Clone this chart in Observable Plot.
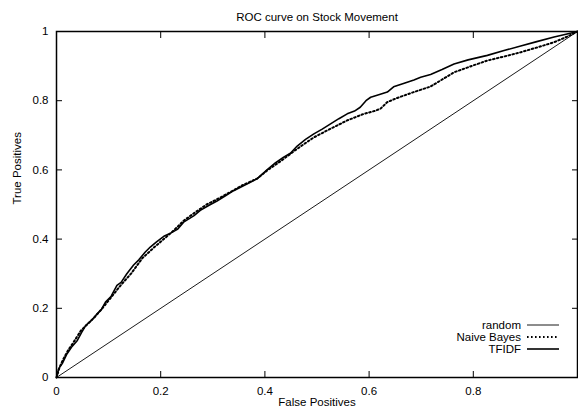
<!DOCTYPE html>
<html><head><meta charset="utf-8">
<script src="https://cdn.jsdelivr.net/npm/d3@7"></script>
<script src="https://cdn.jsdelivr.net/npm/@observablehq/plot@0.6"></script>
<style>body{margin:0;background:#fff}</style>
</head><body><div id="chart"></div>
<script>
const title = "ROC curve on Stock Movement";
const xLabel = "False Positives";
const yLabel = "True Positives";
const xTicks = [0, 0.2, 0.4, 0.6, 0.8, 1];
const xTickLabels = ["0", "0.2", "0.4", "0.6", "0.8", ""];
const yTicks = [0, 0.2, 0.4, 0.6, 0.8, 1];
const yTickLabels = ["0", "0.2", "0.4", "0.6", "0.8", "1"];
const seriesNames = ["random", "Naive Bayes", "TFIDF"];

const randomFP = [0, 1];
const randomTP = [0, 1];

const nbFP = [0,0.006,0.012,0.022,0.034,0.047,0.060,0.073,0.088,0.105,0.124,0.143,0.165,0.188,0.206,0.225,0.244,0.264,0.288,0.308,0.330,0.356,0.385,0.404,0.430,0.462,0.494,0.526,0.558,0.590,0.610,0.622,0.635,0.654,0.686,0.718,0.763,0.800,0.827,0.860,0.891,0.925,0.955,0.980,1];
const nbTP = [0,0.030,0.050,0.078,0.105,0.136,0.155,0.174,0.200,0.232,0.268,0.300,0.345,0.377,0.400,0.425,0.453,0.475,0.500,0.515,0.533,0.555,0.575,0.598,0.625,0.661,0.694,0.719,0.743,0.762,0.770,0.777,0.796,0.808,0.825,0.841,0.882,0.902,0.916,0.928,0.940,0.955,0.969,0.985,1];

const tfFP = [0,0.004,0.011,0.020,0.030,0.040,0.048,0.056,0.067,0.078,0.086,0.094,0.105,0.116,0.124,0.135,0.148,0.158,0.170,0.180,0.192,0.206,0.220,0.232,0.244,0.264,0.276,0.292,0.308,0.325,0.340,0.356,0.372,0.385,0.404,0.420,0.436,0.449,0.462,0.478,0.494,0.510,0.526,0.542,0.558,0.572,0.583,0.594,0.603,0.620,0.635,0.647,0.666,0.686,0.699,0.718,0.740,0.763,0.790,0.827,0.859,0.891,0.920,0.955,0.980,1];
const tfTP = [0,0.025,0.040,0.068,0.090,0.107,0.130,0.150,0.165,0.184,0.196,0.218,0.235,0.266,0.275,0.300,0.325,0.340,0.362,0.377,0.392,0.408,0.418,0.428,0.449,0.468,0.483,0.497,0.510,0.526,0.540,0.552,0.564,0.574,0.600,0.620,0.637,0.648,0.669,0.688,0.704,0.718,0.733,0.748,0.762,0.770,0.781,0.800,0.810,0.818,0.825,0.840,0.850,0.860,0.868,0.876,0.890,0.906,0.918,0.931,0.945,0.958,0.970,0.984,0.993,1];

const toPts = (xs, ys) => xs.map((x, i) => ({x, y: ys[i]}));
const randomData = toPts(randomFP, randomTP);
const nbData = toPts(nbFP, nbTP);
const tfData = toPts(tfFP, tfTP);

const fx = d => xTickLabels[xTicks.indexOf(d)];
const fy = d => yTickLabels[yTicks.indexOf(d)];
const styles = [
  {strokeWidth: 0.9, dash: null},
  {strokeWidth: 2, dash: "1.6,2.4"},
  {strokeWidth: 1.6, dash: null}
];
const FS = 11.5;

const plot = Plot.plot({
  width: 578, height: 413,
  marginTop: 31, marginBottom: 36, marginLeft: 56, marginRight: 1,
  style: {fontFamily: "'Liberation Sans', Arial, sans-serif", fontSize: FS + "px", background: "#fff", color: "#000", overflow: "visible"},
  x: {domain: [0, 1]},
  y: {domain: [0, 1]},
  marks: [
    Plot.line(randomData, {x: "x", y: "y", stroke: "#000", strokeWidth: styles[0].strokeWidth}),
    Plot.line(nbData, {x: "x", y: "y", stroke: "#000", strokeWidth: styles[1].strokeWidth, strokeDasharray: styles[1].dash, curve: "linear"}),
    Plot.line(tfData, {x: "x", y: "y", stroke: "#000", strokeWidth: styles[2].strokeWidth}),
    Plot.axisX(xTicks, {anchor: "bottom", tickSize: -6, tickPadding: 15, tickFormat: fx, label: null, fontSize: FS}),
    Plot.axisX(xTicks, {anchor: "top", tickSize: -6, tickFormat: () => "", label: null}),
    Plot.axisY(yTicks, {anchor: "left", tickSize: -6, tickPadding: 14, tickFormat: fy, label: null, fontSize: FS}),
    Plot.axisY(yTicks, {anchor: "right", tickSize: -6, tickFormat: () => "", label: null}),
    Plot.frame({stroke: "#000", strokeWidth: 1.5}),
    Plot.text([title], {frameAnchor: "top", dy: -19, fontSize: FS}),
    Plot.text([xLabel], {frameAnchor: "bottom", dy: 28, fontSize: FS}),
    Plot.text([yLabel], {frameAnchor: "left", dx: -39, rotate: -90, fontSize: FS})
  ]
});

// legend inside the plot, lower right
const svg = d3.select(plot);
const lg = svg.append("g").attr("font-family", "'Liberation Sans', Arial, sans-serif").attr("font-size", FS);
seriesNames.forEach((name, i) => {
  const cy = 325 + i * 12;
  lg.append("text").attr("x", 521).attr("y", cy).attr("dy", "0.35em").attr("text-anchor", "end").attr("fill", "#000").text(name);
  const ln = lg.append("line").attr("x1", 527).attr("x2", 559).attr("y1", cy).attr("y2", cy)
    .attr("stroke", "#000").attr("stroke-width", styles[i].strokeWidth);
  if (styles[i].dash) ln.attr("stroke-dasharray", styles[i].dash);
});

document.getElementById("chart").appendChild(plot);
</script>
</body></html>
